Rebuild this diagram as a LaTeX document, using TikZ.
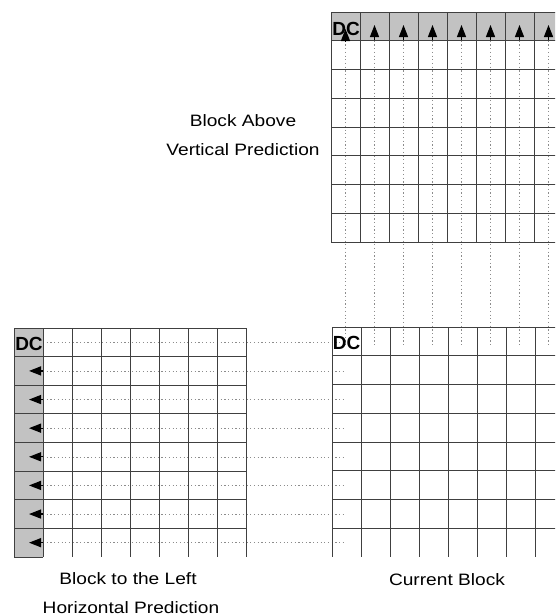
\documentclass[tikz,border=0pt]{standalone}
\usepackage{fontspec}
\setmainfont{Liberation Sans}
\usepackage{graphicx}
\usetikzlibrary{arrows.meta}
\tikzset{
  gridline/.style={draw=black!75, line width=0.9pt},
  shade/.style={fill=black!24},
  guide/.style={draw=black!45, line width=0.6pt, dash pattern=on 1.2pt off 2.5pt},
  predarrow/.style={draw=black, line width=1.3pt, -{Triangle[width=9pt,length=12pt]}},
  dclabel/.style={font=\fontsize{19}{21}\selectfont\bfseries, inner sep=0pt},
  caption/.style={font=\fontsize{16.5}{19}\selectfont, inner sep=0pt}
}
\newcommand{\wide}[1]{\scalebox{1.16}[1]{#1}}
\begin{document}
\begin{tikzpicture}[x=1pt,y=-1pt]
\useasboundingbox (0,0) rectangle (555,616);
\clip (0,0) rectangle (555,616);

% ---------- Block above ----------
\fill[shade] (331,12) rectangle (563,40.75);
\foreach \i in {0,...,7} {
  \draw[guide] ({331+29*\i+14.5},40.75) -- ({331+29*\i+14.5},345);
}
\foreach \i in {0,...,8} {
  \draw[gridline] ({331+29*\i},12) -- ({331+29*\i},242);
}
\foreach \j in {0,...,8} {
  \draw[gridline] (331,{12+28.75*\j}) -- (563,{12+28.75*\j});
}
\foreach \i in {1,...,7} {
  \coordinate (ua\i) at ({331+29*\i+14.5},40);
  \coordinate (ub\i) at ({331+29*\i+14.5},25);
  \draw[predarrow] (ua\i) -- (ub\i);
}
\node[dclabel] (dcabove) at (346,28.5) {DC};
\coordinate (ua0) at (345.5,40.5);
\coordinate (ub0) at (345.5,29);
\draw[predarrow] (ua0) -- (ub0);

% ---------- Block to the left ----------
\fill[shade] (14,328) rectangle (43,557);
\foreach \j in {0,...,7} {
  \draw[guide] (43,{328+28.625*\j+14.3}) -- (346,{328+28.625*\j+14.3});
}
\foreach \i in {0,...,8} {
  \draw[gridline] ({14+29*\i},328) -- ({14+29*\i},557);
}
\foreach \j in {0,...,7} {
  \draw[gridline] (14,{328+28.625*\j}) -- (246,{328+28.625*\j});
}
\draw[gridline] (14,557) -- (43,557);
\foreach \j in {1,...,7} {
  \coordinate (la\j) at (43,{328+28.625*\j+14.3});
  \coordinate (lb\j) at (29,{328+28.625*\j+14.3});
  \draw[predarrow] (la\j) -- (lb\j);
}
\node[dclabel] (dcleft) at (29,343.5) {DC};

% ---------- Current block ----------
\foreach \i in {0,...,8} {
  \draw[gridline] ({332+29*\i},327) -- ({332+29*\i},557);
}
\foreach \j in {0,...,7} {
  \draw[gridline] (332,{327+28.75*\j}) -- (564,{327+28.75*\j});
}
\node[dclabel] (dccur) at (346.5,343) {DC};

% ---------- Captions ----------
\node[caption] (above1) at (243,121) {\wide{Block Above}};
\node[caption] (above2) at (243,150) {\wide{Vertical Prediction}};
\node[caption] (left1) at (128,579) {\wide{Block to the Left}};
\node[caption] (left2) at (131,608) {\wide{Horizontal Prediction}};
\node[caption] (cur) at (447,580) {\wide{Current Block}};
\end{tikzpicture}
\end{document}
